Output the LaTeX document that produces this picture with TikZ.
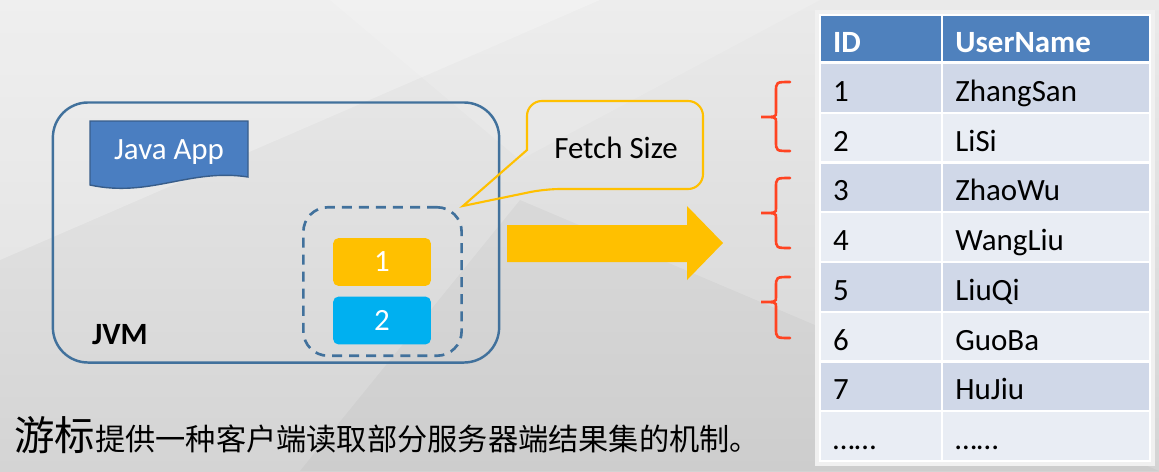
\documentclass[tikz,border=0pt]{standalone}
\usepackage{fontspec}
\setmainfont{Carlito}
\newfontfamily\cjkfont{Noto Sans CJK SC}
\usetikzlibrary{positioning}

\definecolor{bgtop}{RGB}{234,234,234}
\definecolor{bgbot}{RGB}{212,212,212}
\definecolor{jvmblue}{RGB}{65,113,156}
\definecolor{appblue}{RGB}{74,126,193}
\definecolor{appedge}{RGB}{56,93,138}
\definecolor{fetchorange}{RGB}{255,192,0}
\definecolor{fetchblue}{RGB}{0,176,240}
\definecolor{headblue}{RGB}{79,129,189}
\definecolor{rowodd}{RGB}{208,216,232}
\definecolor{roweven}{RGB}{233,237,244}
\definecolor{bracered}{RGB}{255,68,34}

\tikzset{
  every label text/.style={font=\fontsize{17.6}{20}\selectfont},
  jvm box/.style={draw=jvmblue, line width=1.4pt, rounded corners=20pt,
    minimum width=254pt, minimum height=148pt},
  buffer box/.style={draw=jvmblue, line width=1.5pt, dash pattern=on 5.7pt off 4pt,
    rounded corners=14pt, minimum width=90.1pt, minimum height=84.5pt},
  batch/.style={rounded corners=3pt, minimum width=55.6pt, minimum height=27.2pt,
    text=white, every label text},
  cell/.style={draw=white, line width=1.1pt, inner xsep=7.4pt, inner ysep=0pt,
    minimum height=28.2pt, text height=15.4pt, text depth=0pt, align=left,
    every label text},
  id cell/.style={cell, minimum width=69.2pt, text width=54.4pt},
  name cell/.style={cell, minimum width=117.9pt, text width=103.1pt},
  head cell/.style={fill=headblue, text=white, minimum height=26.6pt,
    font=\fontsize{17.6}{20}\selectfont\bfseries},
  brace/.style={draw=bracered, line width=1.5pt, line cap=round}
}

\begin{document}
\begin{tikzpicture}[x=0.02cm, y=-0.02cm]
\useasboundingbox (0,0) rectangle (1159,471);
\shade [top color=bgtop, bottom color=bgbot] (0,0) rectangle (1159,471);
\fill [white, opacity=.25] (0,0) -- (600,0) -- (0,260) -- cycle;
\fill [white, opacity=.15] (330,0) -- (820,0) -- (520,160) -- cycle;
\fill [black, opacity=.03] (520,200) -- (1159,471) -- (300,471) -- cycle;

\node [jvm box] (jvm) at (276,232.5) {};
\node [every label text, font=\fontsize{17.6}{20}\selectfont\bfseries] (jvm-label) at (120,335) {JVM};

\draw [fill=appblue, draw=appedge, line width=0.8pt]
  (90,121) -- (248,121) -- (248,177) .. controls (190,168) and (150,198) .. (90,185) -- cycle;
\node [every label text, text=white] (app) at (169,152) {Java App};

\node [buffer box] (buffer) at (382.5,281.5) {};
\foreach \c [count=\i] in {fetchorange, fetchblue}
  \node [batch, fill=\c] (batch-\i) at (382,{262+(\i-1)*58.5}) {\i};

\node [every label text] (fetch) at (616,148) {Fetch Size};
\draw [draw=fetchorange, line width=1.2pt]
  (527,150) [rounded corners=8.5pt] -- (527,101) -- (703,101) -- (703,189) -- (545,189)
  [sharp corners] -- (buffer.north east) -- cycle;

\fill [fetchorange] (507,225) -- (687,225) -- (687,206) -- (723,243)
  -- (687,280) -- (687,262) -- (507,262) -- cycle;

\foreach \t/\m/\b [count=\k] in {82/117/151, 178/213/248, 277/302/338}
  \draw [brace] (790,\t) .. controls (776,\t) .. (776,\t+10) -- (776,\m-5)
    .. controls (776,\m) .. (761,\m) .. controls (776,\m) .. (776,\m+5)
    -- (776,\b-10) .. controls (776,\b) .. (790,\b);

\draw [black!6, line width=3pt] (818,13) rectangle (1152,463);
\node [id cell, head cell] (id-0) at (881,38.5) {ID};
\node [name cell, head cell] (name-0) at (1046,38.5) {UserName};
\foreach \id/\name/\rowcol [count=\y] in {1/ZhangSan/rowodd, 2/LiSi/roweven,
    3/ZhaoWu/rowodd, 4/WangLiu/roweven, 5/LiuQi/rowodd, 6/GuoBa/roweven,
    7/HuJiu/rowodd, ……/……/roweven}
{
  \node [id cell, fill=\rowcol] (id-\y) at (881,{38.15+\y*49.75}) {\id};
  \node [name cell, fill=\rowcol] (name-\y) at (1046,{38.15+\y*49.75}) {\name};
}

\node [anchor=base west, inner sep=0pt] (caption) at (14,450)
  {\cjkfont{\fontsize{23}{24}\selectfont 游标}{\fontsize{17.2}{20}\selectfont 提供一种客户端读取部分服务器端结果集的机制。}};
\end{tikzpicture}
\end{document}
